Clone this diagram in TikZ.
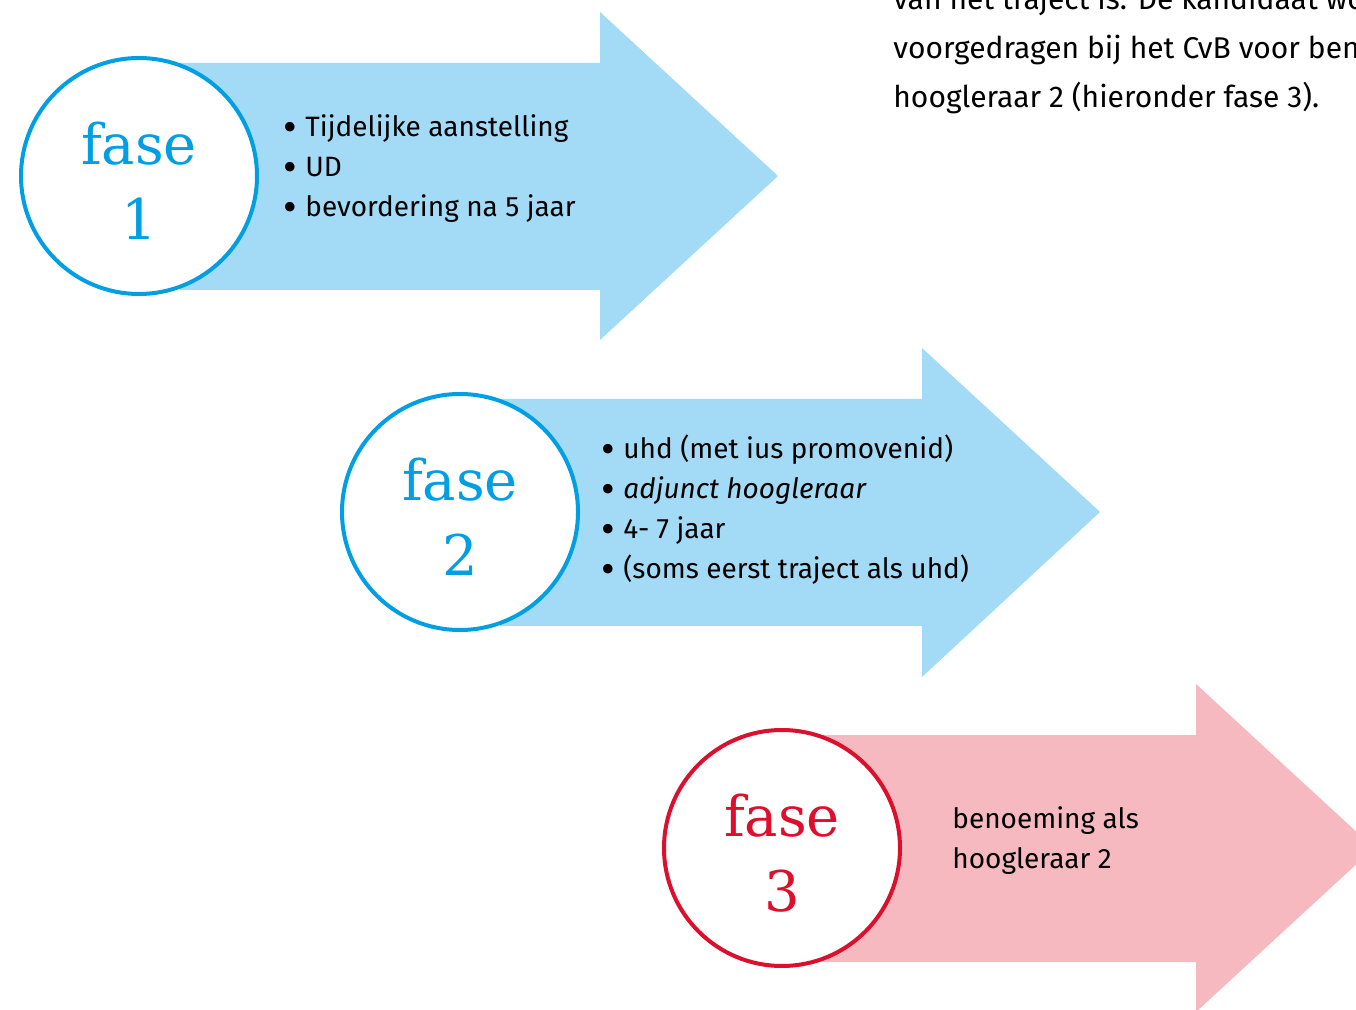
\documentclass[tikz,border=0pt]{standalone}
\usepackage{fontspec}
\setmainfont{Fira Sans}
\newfontfamily\fasefont{DejaVu Serif}
\usepackage{tikz}
\usetikzlibrary{positioning}

\definecolor{lightblue}{HTML}{A3DAF6}
\definecolor{strongblue}{HTML}{009FE3}
\definecolor{lightpink}{HTML}{F6B9C0}
\definecolor{strongred}{HTML}{DC0F2D}

\newcommand{\itembul}{{\fontsize{21}{0}\selectfont\raisebox{-2.2pt}{\textbullet}}\hspace{0.3em}}

\tikzset{
  phasebody/.style={fill=#1, draw=none},
  phasecircle/.style={circle, draw=#1, line width=2pt, fill=white,
    minimum size=118pt, inner sep=0pt, align=center, text=#1,
    font=\fasefont\fontsize{28}{37.5}\selectfont},
  phaselabel/.style={align=center, inner sep=0pt, text=#1,
    font=\fasefont\fontsize{28}{37.5}\selectfont},
  itemtext/.style={anchor=west, align=left, inner sep=0pt,
    font=\fontsize{14}{20}\selectfont},
  bodytext/.style={anchor=north west, align=left, inner sep=0pt,
    font=\fontsize{15}{24.5}\selectfont}
}

\begin{document}
\begin{tikzpicture}[x=0.5pt,y=-0.5pt]
        \useasboundingbox (0,0) rectangle (1356,1010);
        \clip (0,0) rectangle (1356,1010);

        % text next to the pictures
        \node[bodytext] (intro) at (893,-14) {van het traject is. De kandidaat wordt\\
          voorgedragen bij het CvB voor benoeming\\
          hoogleraar 2 (hieronder fase 3).};

        % the three arrows
        \fill[phasebody=lightblue] (180,63) -- (600,63) -- (600,12) -- (778,176)
          -- (600,340) -- (600,290) -- (180,290) -- cycle;
        \fill[phasebody=lightblue] (500,399) -- (922,399) -- (922,348) -- (1100,512)
          -- (922,677) -- (922,626) -- (500,626) -- cycle;
        \fill[phasebody=lightpink] (820,735) -- (1196,735) -- (1196,684) -- (1374,848)
          -- (1196,1012) -- (1196,962) -- (820,962) -- cycle;

        % phases
        \node[phasecircle=strongblue] (fase1) at (139,176) {};
        \node[phasecircle=strongblue] (fase2) at (460,512) {};
        \node[phasecircle=strongred] (fase3) at (782,848) {};
        \node[phaselabel=strongblue] (label1) at ([yshift=-2.5pt]fase1.center) {fase\\1};
        \node[phaselabel=strongblue] (label2) at ([yshift=-2.5pt]fase2.center) {fase\\2};
        \node[phaselabel=strongred] (label3) at ([yshift=-2.5pt]fase3.center) {fase\\3};

        \node[itemtext] (items1) at (283,169) {\itembul Tijdelijke aanstelling\\
          \itembul UD\\
          \itembul bevordering na 5 jaar};
        \node[itemtext] (items2) at (601,510) {\itembul uhd (met ius promovenid)\\
          \itembul \textit{adjunct hoogleraar}\\
          \itembul 4- 7 jaar\\
          \itembul (soms eerst traject als uhd)};
        \node[itemtext] (items3) at (952,841) {benoeming als\\hoogleraar 2};
\end{tikzpicture}
\end{document}
